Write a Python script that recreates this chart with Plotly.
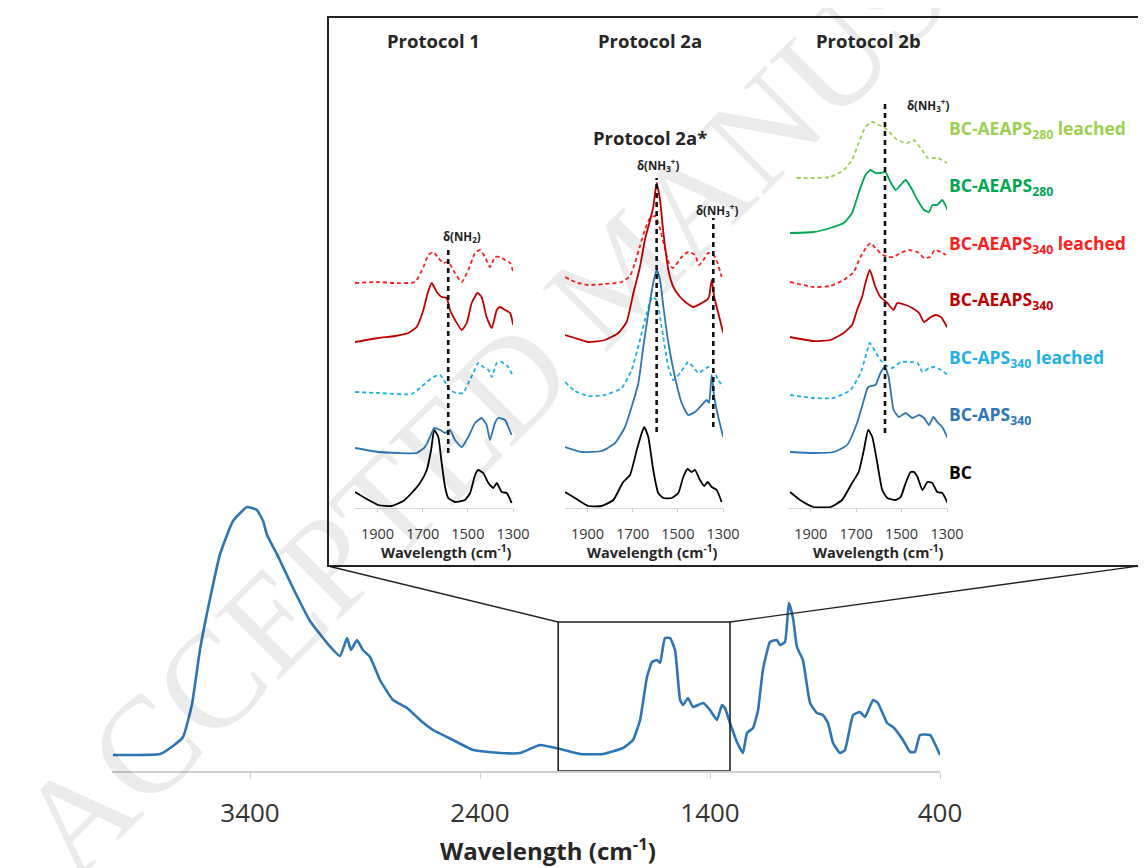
import plotly.graph_objects as go

# ---------------- data: main FTIR spectrum ----------------
main_wn = [3996,3791,3735,3691,3652,3617,3574,3530,3474,3413,3370,3343,3326,3283,3213,3139,3065,3009,2978,2961,
           2935,2909,2878,2835,2778,2717,2661,2604,2517,2430,2313,2226,2139,2052,1965,1865,1778,1735,1704,1674,
           1652,1630,1617,1596,1574,1552,1530,1517,1496,1474,1430,1400,1370,1348,1335,1313,1283,1257,1239,1213,
           1191,1170,1139,1109,1096,1074,1057,1039,1022,996,965,935,909,887,865,835,813,778,748,726,
           691,670,630,604,561,530,509,487,443,430,400]
main_abs = [16,17,25,34,67,122,172,217,250,264,261,250,236,217,183,150,128,115,133,121,
            131,121,114,91,71,63,51,41,31,21,18,18,26,22,17,17,23,31,51,94,
            109,111,108,133,133,121,71,66,73,64,68,61,51,66,63,48,29,18,38,43,
            61,101,129,131,126,129,168,153,124,111,68,58,56,48,28,18,21,56,59,54,
            71,68,48,44,31,19,19,36,36,31,16]
main_ticks = [3400, 2400, 1400, 400]
zoom_window = [2060, 1313]   # wavenumber range of the zoom box
zoom_box_top = 149

inset_ticks = [1900, 1700, 1500, 1300]

# ---------------- Protocol 1 ----------------
p1_bc_wn = [2000,1956,1897,1838,1786,1749,1712,1682,1663,1649,1631,1616,1601,1587,1557,1513,1490,1468,1454,1432,1409,1387,1372,1350,1328,1306]
p1_bc    = [16,10,3,2,7,15,25,38,58,78,71,45,21,10,6,8,15,33,38,35,25,20,25,16,15,5]
p1_aps_wn = [2000,1897,1808,1727,1690,1668,1649,1623,1601,1579,1557,1527,1498,1468,1439,1417,1402,1380,1365,1335,1321,1306]
p1_aps    = [60,56,55,55,61,71,80,78,75,78,68,61,71,85,90,83,68,85,90,88,81,73]
p1_apsl_wn = [2000,1897,1749,1712,1682,1653,1623,1601,1579,1550,1520,1498,1476,1454,1432,1409,1394,1372,1350,1321,1299]
p1_apsl    = [116,115,114,120,126,131,133,126,118,115,115,125,135,145,141,138,131,145,146,141,131]
p1_aea_wn = [2000,1897,1823,1764,1727,1697,1678,1660,1638,1616,1594,1579,1557,1527,1505,1483,1457,1439,1417,1394,1372,1358,1335,1313,1299]
p1_aea    = [166,170,172,175,181,198,215,225,216,211,210,198,188,178,185,205,215,211,191,180,198,201,198,195,183]
p1_aeal_wn = [2000,1897,1823,1734,1697,1675,1653,1631,1609,1587,1557,1527,1498,1468,1446,1424,1402,1380,1358,1335,1313,1299]
p1_aeal    = [225,226,225,226,241,253,256,250,245,246,235,226,238,255,258,251,241,251,251,248,245,236]

# ---------------- Protocol 2a ----------------
p2a_bc_wn = [2000,1956,1897,1838,1786,1742,1712,1682,1660,1649,1631,1609,1587,1564,1527,1498,1476,1457,1439,1424,1402,1383,1368,1350,1328,1306]
p2a_bc    = [16,10,2,2,8,26,33,58,75,81,71,38,15,10,10,15,31,39,36,38,28,22,26,21,18,6]
p2a_aps_wn = [2000,1926,1838,1778,1734,1705,1675,1653,1631,1609,1594,1579,1564,1542,1513,1483,1454,1424,1394,1372,1362,1350,1339,1321,1299]
p2a_aps    = [61,56,57,65,81,101,125,161,195,225,238,228,201,165,131,105,93,96,103,108,105,133,111,91,71]
p2a_apsl_wn = [2000,1956,1897,1823,1749,1705,1668,1638,1613,1594,1572,1542,1520,1490,1454,1432,1409,1387,1365,1343,1321,1299]
p2a_apsl    = [126,117,112,113,120,138,168,195,211,208,181,141,128,135,146,141,135,138,141,138,128,121]
p2a_aea_wn = [2000,1956,1897,1823,1764,1727,1697,1668,1646,1623,1609,1594,1579,1564,1542,1520,1490,1461,1432,1394,1372,1362,1350,1339,1321,1299]
p2a_aea    = [173,170,166,168,175,186,215,241,268,288,301,325,308,275,238,221,211,205,201,205,208,211,228,211,195,175]
p2a_aeal_wn = [2000,1956,1897,1823,1749,1712,1690,1668,1646,1623,1600,1580,1560,1540,1522,1483,1454,1424,1406,1387,1365,1335,1306]
p2a_aeal    = [231,226,223,224,226,232,245,262,278,290,292,280,262,245,240,251,256,253,243,248,255,251,231]

# ---------------- Protocol 2b ----------------
p2b_bc_wn = [1991,1947,1888,1814,1762,1718,1689,1666,1647,1629,1607,1585,1563,1526,1504,1482,1460,1445,1430,1408,1386,1365,1343,1321,1297]
p2b_bc    = [16,8,1,1,8,25,36,58,78,71,45,18,10,8,11,25,36,36,31,18,26,25,16,15,5]
p2b_aps_wn = [1991,1888,1799,1740,1696,1666,1647,1615,1593,1575,1557,1535,1512,1482,1453,1423,1401,1379,1360,1343,1321,1297]
p2b_aps    = [56,55,56,63,85,108,121,123,135,141,131,98,91,95,90,93,90,83,91,86,81,70]
p2b_apsl_wn = [1991,1888,1799,1725,1681,1654,1640,1615,1593,1571,1541,1504,1460,1430,1408,1379,1356,1327,1297]
p2b_apsl    = [113,110,110,118,135,155,165,156,148,143,140,146,146,145,136,140,141,138,133]
p2b_aea_wn = [1991,1888,1814,1755,1718,1696,1674,1659,1640,1615,1593,1563,1535,1519,1482,1453,1423,1401,1371,1349,1327,1297]
p2b_aea    = [171,167,168,175,183,198,211,225,238,221,211,205,198,205,203,200,195,186,191,193,191,180]
p2b_aeal_wn = [1991,1888,1814,1755,1711,1681,1654,1637,1615,1593,1563,1535,1504,1468,1430,1401,1374,1354,1327,1305]
p2b_aeal    = [226,221,222,228,236,251,261,265,260,255,251,251,255,258,256,250,251,258,256,253]
p2b_a280_wn = [1991,1888,1814,1755,1718,1689,1659,1637,1615,1593,1571,1549,1526,1504,1482,1460,1430,1401,1379,1364,1343,1321,1297]
p2b_a280    = [275,276,280,285,295,315,333,338,335,335,336,326,318,323,328,321,308,298,296,303,303,308,298]
p2b_a280l_wn = [1962,1888,1814,1755,1718,1689,1659,1629,1600,1578,1549,1519,1475,1446,1410,1384,1340,1300]
p2b_a280l    = [330,330,331,338,348,365,381,386,383,381,375,368,365,368,358,350,350,345]

# band marker lines: (panel, wavenumber, bottom, top)
band_lines = [("1", 1587, 55, 261), ("2a", 1594, 76, 330), ("2a", 1343, 81, 290), ("2b", 1573, 75, 405)]
band_labels = [("1", 1526, 271, "δ(NH<sub>2</sub>)"), ("2a", 1588, 343, "δ(NH<sub>3</sub><sup>+</sup>)"),
               ("2a", 1327, 298, "δ(NH<sub>3</sub><sup>+</sup>)"), ("2b", 1384, 403, "δ(NH<sub>3</sub><sup>+</sup>)")]

series_names = ["BC-AEAPS<sub>280</sub> leached", "BC-AEAPS<sub>280</sub>", "BC-AEAPS<sub>340</sub> leached",
                "BC-AEAPS<sub>340</sub>", "BC-APS<sub>340</sub> leached", "BC-APS<sub>340</sub>", "BC"]
series_label_y = [378, 321, 263, 208, 150, 93, 36]

# ---------------- style ----------------
OFF = 8                      # page body margin
W, H = 1146 - OFF, 868 - OFF
def PX(x): return (x - OFF) / W
def PY(y): return 1 - (y - OFF) / H

C_BC = "#000000"
C_APS = "#2e75b6"
C_APSL = "#1fb0ea"
C_AEA = "#c00000"
C_AEAL = "#ff2020"
C_A280 = "#00a651"
C_A280L = "#9bd050"
series_colors = [C_A280L, C_A280, C_AEAL, C_AEA, C_APSL, C_APS, C_BC]
FONT = "Open Sans"
axes = {"1": ("x2", "y2"), "2a": ("x3", "y3"), "2b": ("x4", "y4")}

fig = go.Figure()
fig.add_trace(go.Scatter(x=main_wn, y=main_abs, mode="lines", line=dict(color="#2e75b6", width=2.6, shape="spline", smoothing=0.4),
                         xaxis="x", yaxis="y", hoverinfo="skip"))

def add(panel, wn, vals, color, dashed=False):
    xa, ya = axes[panel]
    fig.add_trace(go.Scatter(x=wn, y=vals, mode="lines", xaxis=xa, yaxis=ya, hoverinfo="skip",
                             line=dict(color=color, width=1.8, dash="4px,3px" if dashed else "solid",
                                       shape="spline", smoothing=0.5)))

add("1", p1_bc_wn, p1_bc, C_BC)
add("1", p1_aps_wn, p1_aps, C_APS)
add("1", p1_apsl_wn, p1_apsl, C_APSL, True)
add("1", p1_aea_wn, p1_aea, C_AEA)
add("1", p1_aeal_wn, p1_aeal, C_AEAL, True)
add("2a", p2a_bc_wn, p2a_bc, C_BC)
add("2a", p2a_apsl_wn, p2a_apsl, C_APSL, True)
add("2a", p2a_aps_wn, p2a_aps, C_APS)
add("2a", p2a_aeal_wn, p2a_aeal, C_AEAL, True)
add("2a", p2a_aea_wn, p2a_aea, C_AEA)
add("2b", p2b_bc_wn, p2b_bc, C_BC)
add("2b", p2b_aps_wn, p2b_aps, C_APS)
add("2b", p2b_apsl_wn, p2b_apsl, C_APSL, True)
add("2b", p2b_aea_wn, p2b_aea, C_AEA)
add("2b", p2b_aeal_wn, p2b_aeal, C_AEAL, True)
add("2b", p2b_a280_wn, p2b_a280, C_A280)
add("2b", p2b_a280l_wn, p2b_a280l, C_A280L, True)

for panel, wn, lo, hi in band_lines:
    xa, ya = axes[panel]
    fig.add_trace(go.Scatter(x=[wn, wn], y=[lo, hi], mode="lines", xaxis=xa, yaxis=ya, hoverinfo="skip",
                             line=dict(color="#111111", width=2.6, dash="5px,4px")))

def txt_ann(x, y, xref, yref, text, size, color="#262626", xanchor="center"):
    return dict(x=x, y=y, xref=xref, yref=yref, text=text, showarrow=False, xanchor=xanchor, yanchor="middle",
                font=dict(family=FONT, size=size, color=color))

annotations = []
for panel, wn, y, t in band_labels:
    xa, ya = axes[panel]
    annotations.append(txt_ann(wn, y, xa, ya, "<b>" + t + "</b>", 11.5, "#222222"))
for name, y, col in zip(series_names, series_label_y, series_colors):
    annotations.append(txt_ann(PX(947), y, "paper", "y4", "<b>" + name + "</b>", 17.5, col, "left"))
for t, cx, cy in [("Protocol 1", 433, 40), ("Protocol 2a", 650, 40), ("Protocol 2b", 868, 40),
                  ("Protocol 2a*", 650, 137)]:
    annotations.append(txt_ann(PX(cx), PY(cy), "paper", "paper", "<b>" + t + "</b>", 18.5))
for cx in [446, 652, 878]:
    annotations.append(txt_ann(PX(cx), PY(551), "paper", "paper", "<b>Wavelength (cm<sup>-1</sup>)</b>", 14.5))
annotations.append(txt_ann(PX(548), PY(849), "paper", "paper", "<b>Wavelength (cm<sup>-1</sup>)</b>", 24))
# journal watermark
annotations.append(dict(x=PX(620), y=PY(272), xref="paper", yref="paper", text="ACCEPTED MANUSCRIPT",
                        showarrow=False, textangle=-45, xanchor="center", yanchor="middle",
                        font=dict(family="Liberation Serif", size=138, color="rgba(0,0,0,0.08)")))

shapes = [
    dict(type="rect", xref="x", yref="y", x0=zoom_window[0], x1=zoom_window[1], y0=0, y1=zoom_box_top,
         line=dict(color="#222222", width=1.6)),
    dict(type="rect", xref="paper", yref="paper", x0=PX(328), x1=PX(1160), y0=PY(566), y1=PY(17),
         line=dict(color="#222222", width=2)),
    dict(type="line", xref="paper", yref="paper", x0=PX(328), y0=PY(566), x1=PX(558), y1=PY(622),
         line=dict(color="#222222", width=1.4)),
    dict(type="line", xref="paper", yref="paper", x0=PX(730), y0=PY(622), x1=PX(1146), y1=PY(565),
         line=dict(color="#222222", width=1.4)),
]

inset_x = dict(range=[2000, 1300], tickvals=inset_ticks, ticks="outside", ticklen=3, tickcolor="#cccccc",
               showline=True, linecolor="#d6d6d6", linewidth=1.2, showgrid=False, zeroline=False,
               tickfont=dict(family=FONT, size=14.5, color="#333333"), ticklabelstandoff=9)
inset_y = dict(range=[0, 428], domain=[PY(508), PY(80)], visible=False)

fig.update_layout(
    width=W, height=H, margin=dict(l=0, r=0, t=0, b=0), showlegend=False,
    paper_bgcolor="white", plot_bgcolor="rgba(0,0,0,0)", template="none",
    xaxis=dict(domain=[PX(112), PX(940)], range=[4000, 400], tickvals=main_ticks, ticks="outside", ticklen=6,
               tickcolor="#cfcfcf", showline=True, linecolor="#d0d0d0", linewidth=2, showgrid=False,
               zeroline=False, anchor="y", tickfont=dict(family=FONT, size=26, color="#333333"),
               ticklabelstandoff=12),
    yaxis=dict(domain=[PY(771), PY(480)], range=[0, 291], visible=False, anchor="x"),
    xaxis2=dict(domain=[PX(355), PX(513)], anchor="y2", **inset_x),
    yaxis2=dict(anchor="x2", **inset_y),
    xaxis3=dict(domain=[PX(565), PX(723)], anchor="y3", **inset_x),
    yaxis3=dict(anchor="x3", **inset_y),
    xaxis4=dict(domain=[PX(788), PX(947)], anchor="y4", **inset_x),
    yaxis4=dict(anchor="x4", **inset_y),
    annotations=annotations, shapes=shapes,
)

fig.write_html("out.html")
